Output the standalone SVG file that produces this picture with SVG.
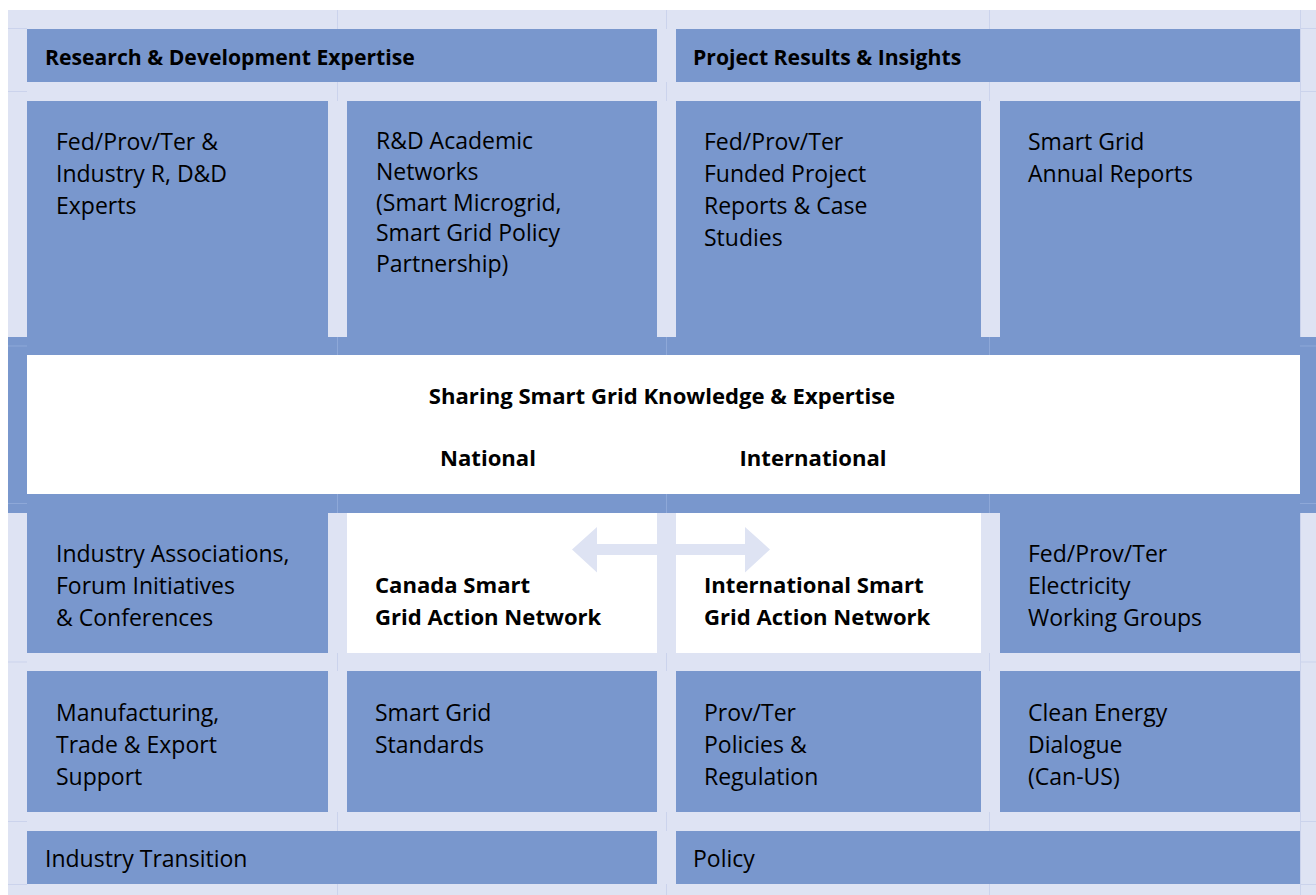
<svg xmlns="http://www.w3.org/2000/svg" width="1316" height="895" viewBox="0 0 1316 895">
<style>
.bg{fill:#dee3f3}
.blue{fill:#7997cd}
.white{fill:#ffffff}
.t{font-family:"Open Sans","Liberation Sans",sans-serif;font-size:23px;fill:#000}
.b{font-family:"Open Sans","Liberation Sans",sans-serif;font-size:21.2px;font-weight:bold;fill:#000}
.b2{font-family:"Open Sans","Liberation Sans",sans-serif;font-size:22.1px;font-weight:bold;fill:#000}
.gl{stroke:#cbd3ec;stroke-width:1;fill:none}
.glb{stroke:#8ea8d8;stroke-width:1;fill:none}
</style>
<rect x="0" y="0" width="1316" height="895" fill="#ffffff"/>
<rect class="bg" x="8" y="10" width="1308" height="885"/>
<g id="gridlines">
<path class="gl" d="M337.5 10V29M666.5 10V29M989.5 10V29M337.5 82V101M666.5 82V101M989.5 82V101M337.5 653V671M666.5 653V671M989.5 653V671M337.5 812V831M666.5 812V831M989.5 812V831M337.5 884V895M666.5 884V895M989.5 884V895M8 28.5H27M8 91.5H27M8 662H27M8 821.5H27M8 884.5H27M1300 28.5H1316M1300 91.5H1316M1300 662H1316M1300 821.5H1316M1300 884.5H1316M1300.5 10V337M1300.5 513V895"/>
</g>
<g id="center-frame">
<rect class="blue" x="8" y="337" width="1308" height="176"/>
<rect class="white" x="27" y="355" width="1273" height="139"/>
<path class="glb" d="M337.5 337V355M666.5 337V355M989.5 337V355M337.5 494V513M666.5 494V513M989.5 494V513M8 346H27M8 503.5H27M1300 346H1316M1300 503.5H1316"/>
</g>
<g id="header-rd">
<rect class="blue" x="27" y="29" width="630" height="53"/>
<text class="b" x="45" y="65">Research &amp; Development Expertise</text>
</g>
<g id="header-results">
<rect class="blue" x="676" y="29" width="624" height="53"/>
<text class="b" x="693" y="65">Project Results &amp; Insights</text>
</g>
<g id="experts">
<rect class="blue" x="27" y="101" width="301" height="236"/>
<text class="t"><tspan x="56" y="150">Fed/Prov/Ter &amp;</tspan><tspan x="56" y="182">Industry R, D&amp;D</tspan><tspan x="56" y="214">Experts</tspan></text>
</g>
<g id="academic">
<rect class="blue" x="347" y="101" width="310" height="236"/>
<text class="t"><tspan x="376" y="149">R&amp;D Academic</tspan><tspan x="376" y="180">Networks</tspan><tspan x="376" y="211">(Smart Microgrid,</tspan><tspan x="376" y="241">Smart Grid Policy</tspan><tspan x="376" y="272">Partnership)</tspan></text>
</g>
<g id="funded">
<rect class="blue" x="676" y="101" width="305" height="236"/>
<text class="t"><tspan x="704" y="150">Fed/Prov/Ter</tspan><tspan x="704" y="182">Funded Project</tspan><tspan x="704" y="214">Reports &amp; Case</tspan><tspan x="704" y="246">Studies</tspan></text>
</g>
<g id="annual">
<rect class="blue" x="1000" y="101" width="300" height="236"/>
<text class="t"><tspan x="1028" y="150">Smart Grid</tspan><tspan x="1028" y="182">Annual Reports</tspan></text>
</g>
<g id="sharing">
<text class="b2" x="662" y="404" text-anchor="middle">Sharing Smart Grid Knowledge &amp; Expertise</text>
<text class="b2" x="488" y="466" text-anchor="middle">National</text>
<text class="b2" x="813" y="466" text-anchor="middle">International</text>
</g>
<g id="associations">
<rect class="blue" x="27" y="513" width="301" height="140"/>
<text class="t"><tspan x="56" y="562">Industry Associations,</tspan><tspan x="56" y="594">Forum Initiatives</tspan><tspan x="56" y="626">&amp; Conferences</tspan></text>
</g>
<g id="canada-network">
<rect class="white" x="347" y="513" width="310" height="140"/>
<text class="b2"><tspan x="375" y="593">Canada Smart</tspan><tspan x="375" y="625">Grid Action Network</tspan></text>
</g>
<g id="international-network">
<rect class="white" x="676" y="513" width="305" height="140"/>
<text class="b2"><tspan x="704" y="593">International Smart</tspan><tspan x="704" y="625">Grid Action Network</tspan></text>
</g>
<g id="working-groups">
<rect class="blue" x="1000" y="513" width="300" height="140"/>
<text class="t"><tspan x="1028" y="562">Fed/Prov/Ter</tspan><tspan x="1028" y="594">Electricity</tspan><tspan x="1028" y="626">Working Groups</tspan></text>
</g>
<g id="connectors">
<path class="bg" d="M572 549.5L597 527V544H745V527L770 549.5L745 572.5V555H597V572.5Z"/>
</g>
<g id="manufacturing">
<rect class="blue" x="27" y="671" width="301" height="141"/>
<text class="t"><tspan x="56" y="721">Manufacturing,</tspan><tspan x="56" y="753">Trade &amp; Export</tspan><tspan x="56" y="785">Support</tspan></text>
</g>
<g id="standards">
<rect class="blue" x="347" y="671" width="310" height="141"/>
<text class="t"><tspan x="375" y="721">Smart Grid</tspan><tspan x="375" y="753">Standards</tspan></text>
</g>
<g id="policies">
<rect class="blue" x="676" y="671" width="305" height="141"/>
<text class="t"><tspan x="704" y="721">Prov/Ter</tspan><tspan x="704" y="753">Policies &amp;</tspan><tspan x="704" y="785">Regulation</tspan></text>
</g>
<g id="dialogue">
<rect class="blue" x="1000" y="671" width="300" height="141"/>
<text class="t"><tspan x="1028" y="721">Clean Energy</tspan><tspan x="1028" y="753">Dialogue</tspan><tspan x="1028" y="785">(Can-US)</tspan></text>
</g>
<g id="industry-transition">
<rect class="blue" x="27" y="831" width="630" height="53"/>
<text class="t" x="45" y="867">Industry Transition</text>
</g>
<g id="policy">
<rect class="blue" x="676" y="831" width="624" height="53"/>
<text class="t" x="693" y="867">Policy</text>
</g>
</svg>
